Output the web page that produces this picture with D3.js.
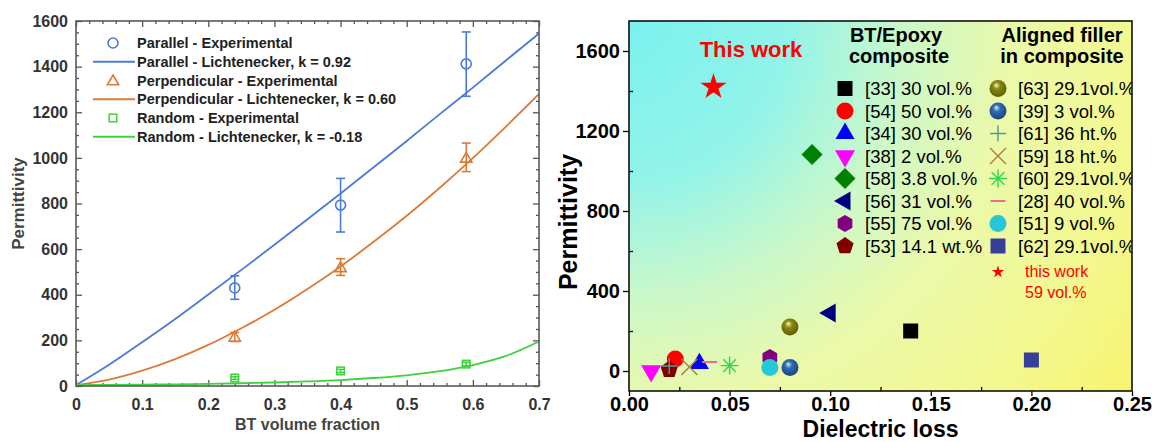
<!DOCTYPE html>
<html>
<head>
<meta charset="utf-8">
<script src="https://cdn.jsdelivr.net/npm/d3@7"></script>
<style>
  body { margin: 0; background: #fff; }
  svg { display: block; }
  text { font-family: Arial, "Liberation Sans", sans-serif; }
</style>
</head>
<body>
<svg id="chart" width="1152" height="442"></svg>
<script>
// ---------- Left panel: permittivity vs BT volume fraction ----------
const expFraction     = [0.24, 0.40, 0.59];
const parallelExp     = [430, 793, 1412];
const parallelErrLow  = [380, 675, 1270];
const parallelErrHigh = [483, 910, 1552];
const perpExp         = [215, 520, 1000];
const perpErrLow      = [195, 485, 940];
const perpErrHigh     = [235, 558, 1065];
const randomExp       = [35, 66, 96];
const randomErrLow    = [29, 59, 88];
const randomErrHigh   = [41, 73, 104];

// Lichtenecker fit curves
const modelFraction = [0, 0.05, 0.1, 0.15, 0.2, 0.25, 0.3, 0.35, 0.4, 0.45, 0.5, 0.55, 0.6, 0.65, 0.7];
const parallelModel = [4, 93, 192, 294, 401, 509, 619, 731, 844, 959, 1074, 1192, 1308, 1427, 1545];
const perpModel     = [4, 28, 67, 118, 180, 253, 334, 425, 524, 632, 746, 869, 999, 1137, 1280];
const randomModel   = [4, 4.9, 6.1, 7.5, 9.5, 12, 15.4, 20, 26, 35, 47, 65, 92, 132, 195];

const leftXTicks = [0, 0.1, 0.2, 0.3, 0.4, 0.5, 0.6, 0.7];
const leftYTicks = [0, 200, 400, 600, 800, 1000, 1200, 1400, 1600];

const leftLegend = [
  "Parallel - Experimental",
  "Parallel - Lichtenecker, k = 0.92",
  "Perpendicular - Experimental",
  "Perpendicular - Lichtenecker, k = 0.60",
  "Random - Experimental",
  "Random - Lichtenecker, k = -0.18"
];

// ---------- Right panel: permittivity vs dielectric loss ----------
const btLabels = ["[33] 30 vol.%", "[54] 50 vol.%", "[34] 30 vol.%", "[38] 2 vol.%",
                  "[58] 3.8 vol.%", "[56] 31 vol.%", "[55] 75 vol.%", "[53] 14.1 wt.%"];
const btLoss   = [0.14, 0.023, 0.035, 0.011, 0.091, 0.10, 0.07, 0.02];
const btPerm   = [200, 60, 37, 0, 1083, 290, 67, 7];

const alignedLabels = ["[63] 29.1vol.%", "[39] 3 vol.%", "[61] 36 ht.%", "[59] 18 ht.%",
                       "[60] 29.1vol.%", "[28] 40 vol.%", "[51] 9 vol.%", "[62] 29.1vol.%"];
const alignedLoss   = [0.08, 0.08, 0.02, 0.03, 0.05, 0.04, 0.07, 0.20];
const alignedPerm   = [220, 17, 25, 20, 27, 45, 17, 55];

const thisWorkLoss = 0.042;
const thisWorkPerm = 1420;

const rightXTicks = [0, 0.05, 0.10, 0.15, 0.20, 0.25];
const rightXMinor = [0.025, 0.075, 0.125, 0.175, 0.225];
const rightYTicks = [0, 400, 800, 1200, 1600];
const rightYMinor = [200, 600, 1000, 1400];

// marker appearance for each reference group
const btStyle = [
  { shape: "square",   color: "#000000", size: 15 },
  { shape: "circle",   color: "#ff0000", size: 17 },
  { shape: "triUp",    color: "#0000ff", size: 19 },
  { shape: "triDown",  color: "#ff00ff", size: 20 },
  { shape: "diamond",  color: "#008000", size: 21 },
  { shape: "triLeft",  color: "#000080", size: 19 },
  { shape: "hexagon",  color: "#800080", size: 17 },
  { shape: "pentagon", color: "#800000", size: 18 }
];
const alignedStyle = [
  { shape: "sphere",   color: "olive",   size: 17 },
  { shape: "sphere",   color: "blue",    size: 17 },
  { shape: "plus",     color: "#4f9a9a", size: 16 },
  { shape: "times",    color: "#b07a3c", size: 16 },
  { shape: "asterisk", color: "#2ed84a", size: 18 },
  { shape: "dash",     color: "#e0708e", size: 15 },
  { shape: "circle",   color: "#25c8d6", size: 17 },
  { shape: "square",   color: "#363f98", size: 15 }
];

const svg = d3.select("#chart");
const defs = svg.append("defs");
const FONT = 'Arial, "Liberation Sans", sans-serif';

// ======================= LEFT PANEL =======================
const L = { x0: 76, x1: 539, y0: 386, y1: 21 };
const xL = d3.scaleLinear().domain([0, 0.7]).range([L.x0, L.x1]);
const yL = d3.scaleLinear().domain([0, 1600]).range([L.y0, L.y1]);
const gL = svg.append("g");

const leftMinorX = d3.range(0, 36).map(i => +(i * 0.02).toFixed(2)).filter(v => Math.round(v * 100) % 10 !== 0);
const leftMinorY = d3.range(0, 33).map(i => i * 50).filter(v => v % 200 !== 0);

function tidy(g, color, fontSize, weight, fill) {
  g.select(".domain").remove();
  g.selectAll("line").attr("stroke", color).attr("stroke-width", 1.3);
  g.selectAll("text").attr("font-family", FONT).attr("font-size", fontSize)
    .attr("font-weight", weight).attr("fill", fill);
}

const fmtL = d => d === 0 ? "0" : d3.format(".1f")(d);
// major ticks with labels (inward)
gL.append("g").attr("transform", `translate(0,${L.y0})`)
  .call(d3.axisBottom(xL).tickValues(leftXTicks).tickSize(-6).tickPadding(13).tickFormat(fmtL))
  .call(g => tidy(g, "#555", 16, "bold", "#333"));
gL.append("g").attr("transform", `translate(${L.x0},0)`)
  .call(d3.axisLeft(yL).tickValues(leftYTicks).tickSize(-6).tickPadding(8).tickFormat(d3.format("d")))
  .call(g => tidy(g, "#555", 16, "bold", "#333"));
// mirrored ticks on top and right
gL.append("g").attr("transform", `translate(0,${L.y1})`)
  .call(d3.axisTop(xL).tickValues(leftXTicks).tickSize(-6).tickFormat(""))
  .call(g => tidy(g, "#555", 16, "bold", "#333"));
gL.append("g").attr("transform", `translate(${L.x1},0)`)
  .call(d3.axisRight(yL).tickValues(leftYTicks).tickSize(-6).tickFormat(""))
  .call(g => tidy(g, "#555", 16, "bold", "#333"));
// minor ticks
[[d3.axisBottom, L.y0], [d3.axisTop, L.y1]].forEach(([ax, pos]) => {
  gL.append("g").attr("transform", `translate(0,${pos})`)
    .call(ax(xL).tickValues(leftMinorX).tickSize(-3).tickFormat(""))
    .call(g => tidy(g, "#555", 16, "bold", "#333"));
});
[[d3.axisLeft, L.x0], [d3.axisRight, L.x1]].forEach(([ax, pos]) => {
  gL.append("g").attr("transform", `translate(${pos},0)`)
    .call(ax(yL).tickValues(leftMinorY).tickSize(-3).tickFormat(""))
    .call(g => tidy(g, "#555", 16, "bold", "#333"));
});

defs.append("clipPath").attr("id", "clipL").append("rect")
  .attr("x", L.x0).attr("y", L.y1).attr("width", L.x1 - L.x0).attr("height", L.y0 - L.y1);

const blue = "#4a7bd9", orange = "#dc7a36", green = "#3ed23e";
const lineGen = d3.line().x(d => xL(d[0])).y(d => yL(d[1])).curve(d3.curveMonotoneX);
const plotL = gL.append("g").attr("clip-path", "url(#clipL)");
[[parallelModel, blue], [perpModel, orange], [randomModel, green]].forEach(([vals, c]) => {
  plotL.append("path").datum(modelFraction.map((f, i) => [f, vals[i]]))
    .attr("d", lineGen).attr("fill", "none").attr("stroke", c).attr("stroke-width", 1.8);
});

function openMarker(g, type, cx, cy, c) {
  if (type === "circle") {
    g.append("circle").attr("cx", cx).attr("cy", cy).attr("r", 5)
      .attr("fill", "none").attr("stroke", c).attr("stroke-width", 1.6);
  } else if (type === "triangle") {
    g.append("path").attr("transform", `translate(${cx},${cy + 1})`)
      .attr("d", d3.symbol(d3.symbolTriangle, 55)())
      .attr("fill", "none").attr("stroke", c).attr("stroke-width", 1.6);
  } else {
    g.append("rect").attr("x", cx - 3.8).attr("y", cy - 3.8).attr("width", 7.6).attr("height", 7.6)
      .attr("fill", "none").attr("stroke", c).attr("stroke-width", 1.5);
  }
}

const expSets = [
  [parallelExp, parallelErrLow, parallelErrHigh, blue, "circle"],
  [perpExp, perpErrLow, perpErrHigh, orange, "triangle"],
  [randomExp, randomErrLow, randomErrHigh, green, "square"]
];
expSets.forEach(([vals, lo, hi, c, type]) => {
  expFraction.forEach((f, i) => {
    const cx = xL(f);
    plotL.append("line").attr("x1", cx).attr("x2", cx).attr("y1", yL(lo[i])).attr("y2", yL(hi[i]))
      .attr("stroke", c).attr("stroke-width", 1.6);
    [lo[i], hi[i]].forEach(v => plotL.append("line").attr("x1", cx - 4.5).attr("x2", cx + 4.5)
      .attr("y1", yL(v)).attr("y2", yL(v)).attr("stroke", c).attr("stroke-width", 1.6));
    openMarker(plotL, type, cx, yL(vals[i]), c);
  });
});

gL.append("rect").attr("x", L.x0).attr("y", L.y1).attr("width", L.x1 - L.x0).attr("height", L.y0 - L.y1)
  .attr("fill", "none").attr("stroke", "#5a5a5a").attr("stroke-width", 1.6);

// legend
const legL = gL.append("g");
const legColors = [blue, blue, orange, orange, green, green];
const legTypes = ["circle", "line", "triangle", "line", "square", "line"];
leftLegend.forEach((label, i) => {
  const yy = 43 + i * 18.75;
  if (legTypes[i] === "line") {
    legL.append("line").attr("x1", 93).attr("x2", 135).attr("y1", yy).attr("y2", yy)
      .attr("stroke", legColors[i]).attr("stroke-width", 1.8);
  } else {
    openMarker(legL, legTypes[i], 113, yy, legColors[i]);
  }
  legL.append("text").attr("x", 137).attr("y", yy + 5).text(label)
    .attr("font-size", 14.5).attr("font-weight", "bold").attr("fill", "#222");
});

gL.append("text").attr("x", (L.x0 + L.x1) / 2).attr("y", 430).attr("text-anchor", "middle")
  .attr("font-size", 16).attr("font-weight", "bold").attr("fill", "#444").text("BT volume fraction");
gL.append("text").attr("transform", `translate(24,${(L.y0 + L.y1) / 2}) rotate(-90)`)
  .attr("text-anchor", "middle").attr("font-size", 17).attr("font-weight", "bold")
  .attr("fill", "#444").text("Permittivity");

// ======================= RIGHT PANEL =======================
const R = { x0: 629, x1: 1132, y0: 391, y1: 21 };
const xR = d3.scaleLinear().domain([0, 0.25]).range([R.x0, R.x1]);
const yR = d3.scaleLinear().domain([-100, 1750]).range([R.y0, R.y1]);
const gR = svg.append("g");

const bg = defs.append("radialGradient").attr("id", "bgGrad").attr("gradientUnits", "userSpaceOnUse")
  .attr("cx", R.x0).attr("cy", R.y1).attr("r", 640);
[[0, "#7af1ee"], [0.25, "#93f4e9"], [0.44, "#cdf8c8"], [0.6, "#ebf9aa"], [0.8, "#f3f890"], [1, "#f8f46c"]]
  .forEach(([o, c]) => bg.append("stop").attr("offset", o).attr("stop-color", c));

function sphereGrad(id, light, mid, dark) {
  const g = defs.append("radialGradient").attr("id", id)
    .attr("cx", 0.45).attr("cy", 0.4).attr("r", 0.6).attr("fx", 0.4).attr("fy", 0.3);
  g.append("stop").attr("offset", 0).attr("stop-color", light);
  g.append("stop").attr("offset", 0.35).attr("stop-color", mid);
  g.append("stop").attr("offset", 1).attr("stop-color", dark);
}
sphereGrad("sph-olive", "#f4f4dc", "#8a8a10", "#5e5e00");
sphereGrad("sph-blue", "#d8e8fa", "#2f6cb4", "#1b4380");

gR.append("rect").attr("x", R.x0).attr("y", R.y1).attr("width", R.x1 - R.x0).attr("height", R.y0 - R.y1)
  .attr("fill", "url(#bgGrad)");

defs.append("clipPath").attr("id", "clipR").append("rect")
  .attr("x", R.x0).attr("y", R.y1).attr("width", R.x1 - R.x0).attr("height", R.y0 - R.y1);

function poly(n, r, rot) {
  const pts = d3.range(n).map(k => {
    const a = rot + k * 2 * Math.PI / n;
    return [r * Math.cos(a), r * Math.sin(a)];
  });
  return d3.line()(pts) + "Z";
}

function drawMarker(g, st, cx, cy) {
  const s = st.size, h = s / 2;
  const t = `translate(${cx},${cy})`;
  const filled = d => g.append("path").attr("transform", t).attr("d", d).attr("fill", st.color);
  const stroked = d => g.append("path").attr("transform", t).attr("d", d)
    .attr("fill", "none").attr("stroke", st.color).attr("stroke-width", 1.4);
  switch (st.shape) {
    case "square":   filled(d3.symbol(d3.symbolSquare, s * s)()); break;
    case "circle":   filled(d3.symbol(d3.symbolCircle, Math.PI * h * h)()); break;
    case "triUp":    filled(poly(3, s / Math.sqrt(3), -Math.PI / 2)); break;
    case "triDown":  filled(poly(3, s / Math.sqrt(3), Math.PI / 2)); break;
    case "triLeft":  filled(poly(3, s / Math.sqrt(3), Math.PI)); break;
    case "diamond":  filled(poly(4, h, 0)); break;
    case "hexagon":  filled(poly(6, h, -Math.PI / 2)); break;
    case "pentagon": filled(poly(5, h, -Math.PI / 2)); break;
    case "sphere":
      g.append("circle").attr("cx", cx).attr("cy", cy).attr("r", h)
        .attr("fill", st.color === "olive" ? "url(#sph-olive)" : "url(#sph-blue)");
      break;
    case "plus":  stroked(`M${-h},0H${h}M0,${-h}V${h}`); break;
    case "times": stroked(`M${-h},${-h}L${h},${h}M${-h},${h}L${h},${-h}`); break;
    case "asterisk": {
      const d = 0.707 * h;
      stroked(`M${-h},0H${h}M0,${-h}V${h}M${-d},${-d}L${d},${d}M${-d},${d}L${d},${-d}`); break;
    }
    case "dash": g.append("path").attr("transform", t).attr("d", `M${-h},0H${h}`)
      .attr("stroke", st.color).attr("stroke-width", 2); break;
  }
}

const plotR = gR.append("g").attr("clip-path", "url(#clipR)");

// legend headers
const hdr = plotR.append("g").attr("font-weight", "bold").attr("font-size", 20)
  .attr("fill", "#000").attr("text-anchor", "middle");
hdr.append("text").attr("x", 896).attr("y", 42).text("BT/Epoxy");
hdr.append("text").attr("x", 899).attr("y", 63).text("composite");
hdr.append("text").attr("x", 1062).attr("y", 42).text("Aligned filler");
hdr.append("text").attr("x", 1062).attr("y", 63).text("in composite");

// legend entries
btLabels.forEach((lab, i) => {
  const yy = 88.5 + i * 22.5;
  drawMarker(plotR, btStyle[i], 845, yy);
  plotR.append("text").attr("x", 865).attr("y", yy + 6.5).attr("font-size", 18.5).attr("fill", "#000").text(lab);
});
alignedLabels.forEach((lab, i) => {
  const yy = 88.5 + i * 22.5;
  drawMarker(plotR, alignedStyle[i], 998, yy);
  plotR.append("text").attr("x", 1018).attr("y", yy + 6.5).attr("font-size", 18.5).attr("fill", "#000").text(lab);
});
plotR.append("path").attr("transform", "translate(998,272)")
  .attr("d", d3.symbol(d3.symbolStar, 48)()).attr("fill", "#ff0000");
plotR.append("text").attr("x", 1025).attr("y", 277).attr("font-size", 16).attr("fill", "#ff0000").text("this work");
plotR.append("text").attr("x", 1025).attr("y", 298).attr("font-size", 16).attr("fill", "#ff0000").text("59 vol.%");

// data points
btLoss.forEach((v, i) => drawMarker(plotR, btStyle[i], xR(v), yR(btPerm[i])));
alignedLoss.forEach((v, i) => drawMarker(plotR, alignedStyle[i], xR(v), yR(alignedPerm[i])));
plotR.append("path").attr("transform", `translate(${xR(thisWorkLoss)},${yR(thisWorkPerm)})`)
  .attr("d", d3.symbol(d3.symbolStar, 210)()).attr("fill", "#ff0000");
plotR.append("text").attr("x", 751).attr("y", 57).attr("text-anchor", "middle")
  .attr("font-size", 22).attr("font-weight", "bold").attr("fill", "#ff0000").text("This work");

// axes
gR.append("g").attr("transform", `translate(0,${R.y0})`)
  .call(d3.axisBottom(xR).tickValues(rightXTicks).tickSize(5).tickPadding(1).tickFormat(d3.format(".2f")))
  .call(g => tidy(g, "#000", 20, "bold", "#000"));
gR.append("g").attr("transform", `translate(0,${R.y0})`)
  .call(d3.axisBottom(xR).tickValues(rightXMinor).tickSize(-4).tickFormat(""))
  .call(g => tidy(g, "#000", 20, "bold", "#000"));
gR.append("g").attr("transform", `translate(${R.x0},0)`)
  .call(d3.axisLeft(yR).tickValues(rightYTicks).tickSize(6).tickPadding(3).tickFormat(d3.format("d")))
  .call(g => tidy(g, "#000", 20, "bold", "#000"));
gR.append("g").attr("transform", `translate(${R.x0},0)`)
  .call(d3.axisLeft(yR).tickValues(rightYMinor).tickSize(-4).tickFormat(""))
  .call(g => tidy(g, "#000", 20, "bold", "#000"));

gR.append("rect").attr("x", R.x0).attr("y", R.y1).attr("width", R.x1 - R.x0).attr("height", R.y0 - R.y1)
  .attr("fill", "none").attr("stroke", "#111").attr("stroke-width", 1.6);

gR.append("text").attr("x", (R.x0 + R.x1) / 2).attr("y", 437).attr("text-anchor", "middle")
  .attr("font-size", 23).attr("font-weight", "bold").attr("fill", "#000").text("Dielectric loss");
gR.append("text").attr("transform", `translate(577,222) rotate(-90)`).attr("text-anchor", "middle")
  .attr("font-size", 25).attr("font-weight", "bold").attr("fill", "#000").text("Permittivity");
</script>
</body>
</html>
